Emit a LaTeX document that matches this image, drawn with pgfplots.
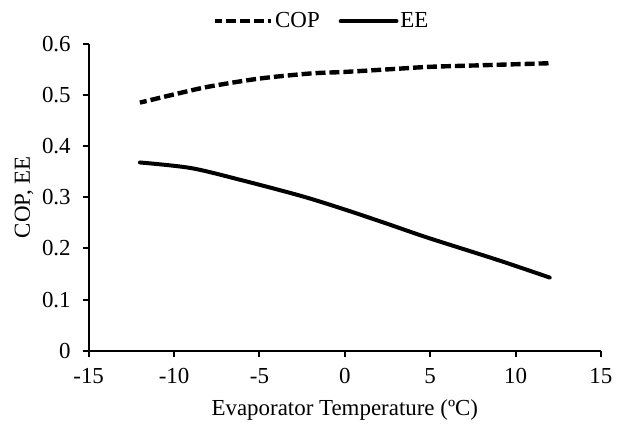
\documentclass[border={3.5pt 0pt 0pt 5pt},11pt]{standalone}
\usepackage{fontspec}
\setmainfont{Liberation Serif}
\usepackage{pgfplots}
\pgfplotsset{compat=1.18}
\begin{document}
\fontsize{11.5}{13}\selectfont
\begin{tikzpicture}
\begin{axis}[
  width=257pt, height=154pt, scale only axis,
  xmin=-15, xmax=15, ymin=0, ymax=0.6,
  xtick={-15,-10,-5,0,5,10,15},
  ytick={0,0.1,0.2,0.3,0.4,0.5,0.6},
  axis lines=left,
  axis line style={-, line width=1pt},
  tick align=outside, major tick length=3pt,
  tick style={black, line width=1pt},
  /pgf/number format/assume math mode=true,
  yticklabel style={/pgf/number format/fixed, /pgf/number format/precision=1, xshift=-2pt},
  xticklabel style={yshift=-2pt},
  xlabel={Evaporator Temperature (ºC)},
  ylabel={COP, EE},
  ylabel shift=-3.5pt,
  legend style={at={(0.455,1)}, anchor=center, yshift=11.3pt, draw=none, fill=none,
    legend columns=2, /tikz/every even column/.append style={column sep=8.5pt},
    inner sep=0pt, nodes={inner sep=1pt}},
  legend image code/.code={\draw[#1] (0pt,0pt) -- (28pt,0pt);},
]
\addplot[black, line width=2.2pt, dash pattern=on 5pt off 2pt, dash phase=1.5pt, smooth, line cap=butt] coordinates {
(-12,0.485) (-10,0.501) (-8,0.516) (-5,0.532) (-2,0.542) (0,0.545) (3,0.551) (5,0.555) (8,0.558) (12,0.562)};
\addlegendentry{COP}
\addplot[black, line width=2pt, smooth, line cap=round] coordinates {
(-12,0.368) (-9,0.357) (-6,0.333) (-2.5,0.302) (0,0.276) (2.5,0.248) (4.85,0.221) (8.9,0.178) (12,0.143)};
\addlegendentry{EE}
\end{axis}
\end{tikzpicture}
\end{document}
